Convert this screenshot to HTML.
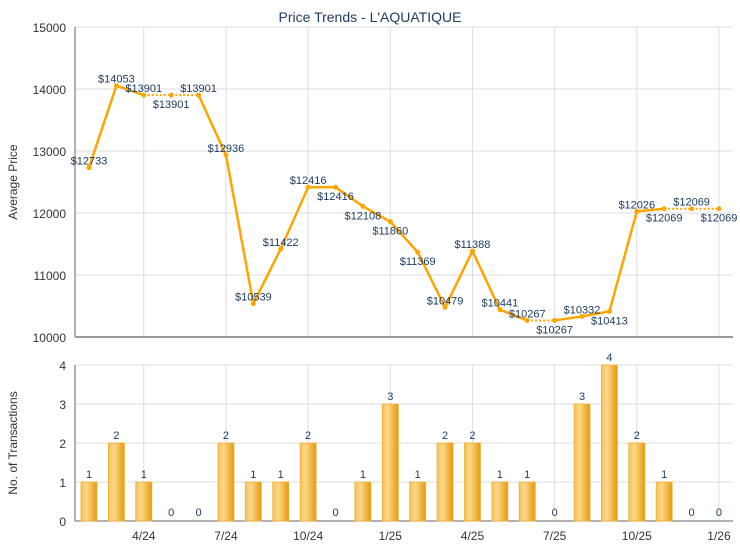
<!DOCTYPE html>
<html><head><meta charset="utf-8"><style>body{margin:0;background:#fff}svg{display:block}text{font-family:"Liberation Sans",Arial,sans-serif}</style></head>
<body>
<svg id="s" width="740" height="550" xmlns="http://www.w3.org/2000/svg"></svg>
<script>
const v=[12733,14053,13901,13901,13901,12936,10539,11422,12416,12416,12108,11860,11369,10479,11388,10441,10267,10267,10332,10413,12026,12069,12069,12069];
const pl=['a','a','a','b','a','a','a','a','a','b','b','b','b','a','a','a','a','b','a','b','a','b','a','b'];
const c=[1,2,1,0,0,2,1,1,2,0,1,3,1,2,2,1,1,0,3,4,2,1,0,0];
const X=i=>89+i*27.39, Y=p=>337-(p-10000)*0.062, YB=n=>521-n*39;
let h=`<defs><linearGradient id="g" x1="0" x2="1"><stop offset="0" stop-color="#f5c15a"/><stop offset="0.35" stop-color="#fdd88a"/><stop offset="1" stop-color="#e59a0c"/></linearGradient></defs>`;
h+=`<text x="370" y="22" font-size="14" fill="#1f3b63" text-anchor="middle">Price Trends - L'AQUATIQUE</text>`;
for(let k=0;k<=5;k++){const y=27+k*62;h+=`<line x1="75" x2="733" y1="${y}" y2="${y}" stroke="#ddd"/><text x="66" y="${y+5}" font-size="12" fill="#333" text-anchor="end">${15000-k*1000}</text>`;}
const tk=['4/24','7/24','10/24','1/25','4/25','7/25','10/25','1/26'];
tk.forEach((t,j)=>{const x=X(2+3*j);h+=`<line x1="${x}" x2="${x}" y1="27" y2="337" stroke="#ddd"/><line x1="${x}" x2="${x}" y1="365" y2="521" stroke="#ddd"/><text x="${x}" y="540" font-size="12" fill="#333" text-anchor="middle">${t}</text>`;});
h+=`<line x1="75" x2="75" y1="27" y2="337" stroke="#666"/><line x1="75" x2="733" y1="337" y2="337" stroke="#999" stroke-width="2"/>`;
h+=`<text transform="translate(17,182) rotate(-90)" font-size="12" fill="#333" text-anchor="middle">Average Price</text>`;
for(let i=0;i<23;i++){const d=v[i]==v[i+1]&&i!=8;h+=`<line x1="${X(i)}" y1="${Y(v[i])}" x2="${X(i+1)}" y2="${Y(v[i+1])}" stroke="#ffa500" stroke-width="${d?2:2.5}" ${d?'stroke-dasharray="2,2"':''}/>`;}
v.forEach((p,i)=>{h+=`<circle cx="${X(i)}" cy="${Y(p)}" r="2.5" fill="#ffa500"/>`;const y=pl[i]=='a'?Y(p)-3:Y(p)+13;h+=`<text x="${X(i)}" y="${y}" font-size="11" fill="#1a3a5c" text-anchor="middle">$${p}</text>`;});
for(let k=0;k<=4;k++){const y=YB(k);h+=`<line x1="75" x2="733" y1="${y}" y2="${y}" stroke="#ddd"/><text x="66" y="${y+5}" font-size="12" fill="#333" text-anchor="end">${k}</text>`;}
h+=`<line x1="75" x2="75" y1="365" y2="521" stroke="#666"/><line x1="75" x2="733" y1="521" y2="521" stroke="#666"/>`;
h+=`<text transform="translate(17,443) rotate(-90)" font-size="12" fill="#333" text-anchor="middle">No. of Transactions</text>`;
c.forEach((n,i)=>{const x=X(i);if(n>0)h+=`<rect x="${x-8}" y="${YB(n)}" width="16" height="${n*39}" fill="url(#g)" stroke="#f0b030" stroke-width="0.8"/>`;h+=`<text x="${x}" y="${n>0?YB(n)-4:516}" font-size="11" fill="#1a3a5c" text-anchor="middle">${n}</text>`;});
document.getElementById('s').innerHTML=h;
</script>
</body></html>
